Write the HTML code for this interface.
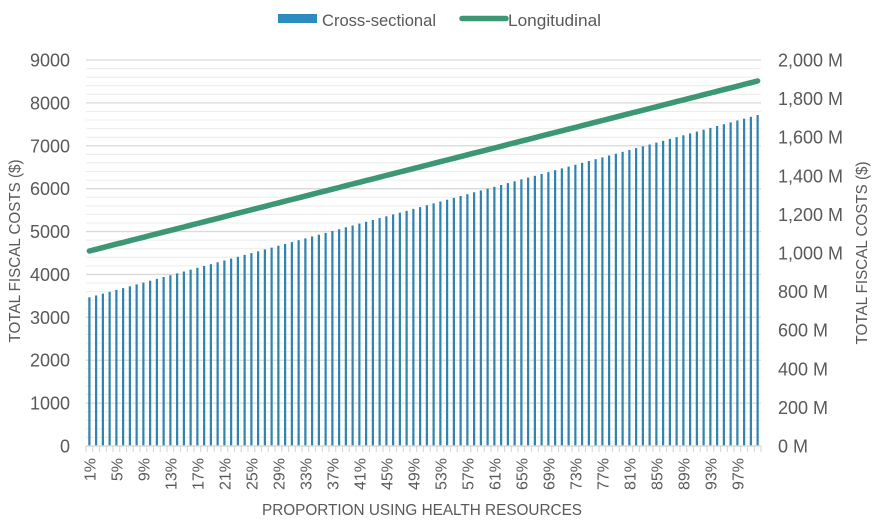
<!DOCTYPE html>
<html>
<head>
<meta charset="utf-8">
<style>
  html,body{margin:0;padding:0;background:#fff;}
  svg{display:block;}
  text{font-family:"Liberation Sans", sans-serif; fill:#595959;}
</style>
</head>
<body>
<svg id="c" width="872" height="520" viewBox="0 0 872 520" xmlns="http://www.w3.org/2000/svg">
  <rect width="872" height="520" fill="#fff"/>
  <g id="minor" stroke="#ececec" stroke-width="1"></g>
  <g id="major" stroke="#d9d9d9" stroke-width="1.3"></g>
  <g id="bars" fill="#2f83ad"></g>
  <g id="ticks" stroke="#d9d9d9" stroke-width="1.2"></g>
  <line x1="86" y1="446" x2="761" y2="446" stroke="#d9d9d9" stroke-width="1.5"/>
  <polyline id="line" fill="none" stroke="#3c9775" stroke-width="5.5" stroke-linecap="round" stroke-linejoin="round"/>
  <g id="ylab" font-size="18" text-anchor="end"></g>
  <g id="rlab" font-size="18"></g>
  <g id="xlab" font-size="16"></g>

  <!-- Legend -->
  <rect x="278" y="14" width="39" height="9" fill="#2e8bc0"/>
  <text x="322" y="26" font-size="17" textLength="114" lengthAdjust="spacingAndGlyphs">Cross-sectional</text>
  <line x1="462" y1="18.5" x2="506" y2="18.5" stroke="#3c9775" stroke-width="5.5" stroke-linecap="round"/>
  <text x="508" y="26" font-size="17" textLength="93" lengthAdjust="spacingAndGlyphs">Longitudinal</text>

  <!-- Axis titles -->
  <text x="422" y="515" font-size="16" text-anchor="middle" textLength="320" lengthAdjust="spacingAndGlyphs">PROPORTION USING HEALTH RESOURCES</text>
  <text transform="translate(20,251) rotate(-90)" font-size="16" text-anchor="middle" textLength="183" lengthAdjust="spacingAndGlyphs">TOTAL FISCAL COSTS ($)</text>
  <text transform="translate(867,253) rotate(-90)" font-size="16" text-anchor="middle" textLength="183" lengthAdjust="spacingAndGlyphs">TOTAL FISCAL COSTS ($)</text>
</svg>
<script>
(function(){
  var NS="http://www.w3.org/2000/svg";
  function el(tag,attrs,parent,txt){var e=document.createElementNS(NS,tag);for(var k in attrs)e.setAttribute(k,attrs[k]);if(txt!==undefined)e.textContent=txt;parent.appendChild(e);return e;}
  var y0=446, y9=60, per=(y0-y9)/9;
  var minor=document.getElementById('minor'), major=document.getElementById('major');
  for(var k=0;k<=45;k++){
    var y=y0-k*per/5;
    if(k%5===0){ if(k>0) el('line',{x1:86,x2:761,y1:y,y2:y},major); }
    else el('line',{x1:86,x2:761,y1:y,y2:y},minor);
  }
  var ylab=document.getElementById('ylab'), rlab=document.getElementById('rlab');
  for(var k=0;k<=9;k++){
    var y=y0-k*per;
    el('text',{x:70,y:(y+6.5).toFixed(1)},ylab,String(k*1000));
  }
  var rv=['0 M','200 M','400 M','600 M','800 M','1,000 M','1,200 M','1,400 M','1,600 M','1,800 M','2,000 M'];
  var rper=(y0-y9)/10;
  for(var k=0;k<=10;k++){
    var y=y0-k*rper;
    el('text',{x:778,y:(y+6.5).toFixed(1)},rlab,rv[k]);
  }
  var bars=document.getElementById('bars'), ticks=document.getElementById('ticks'), xlab=document.getElementById('xlab');
  var w=6.75, x0=86;
  var pts=[];
  for(var i=0;i<100;i++){
    var cx=x0+(i+0.5)*w;
    var top=297.3-(i/99)*182.3;
    el('rect',{x:(cx-1.1).toFixed(2),y:top.toFixed(1),width:2.2,height:(y0-top).toFixed(1)},bars);
    var ly=251-(i/99)*170;
    pts.push(cx.toFixed(1)+','+ly.toFixed(1));
    if(i%4===0){
      el('text',{transform:'translate('+(cx+6).toFixed(1)+',458) rotate(-90)','text-anchor':'end'},xlab,(i+1)+'%');
    }
  }
  for(var i=0;i<=100;i++){
    var x=x0+i*w;
    el('line',{x1:x,x2:x,y1:446,y2:452},ticks);
  }
  document.getElementById('line').setAttribute('points',pts.join(' '));
})();
</script>
</body>
</html>
